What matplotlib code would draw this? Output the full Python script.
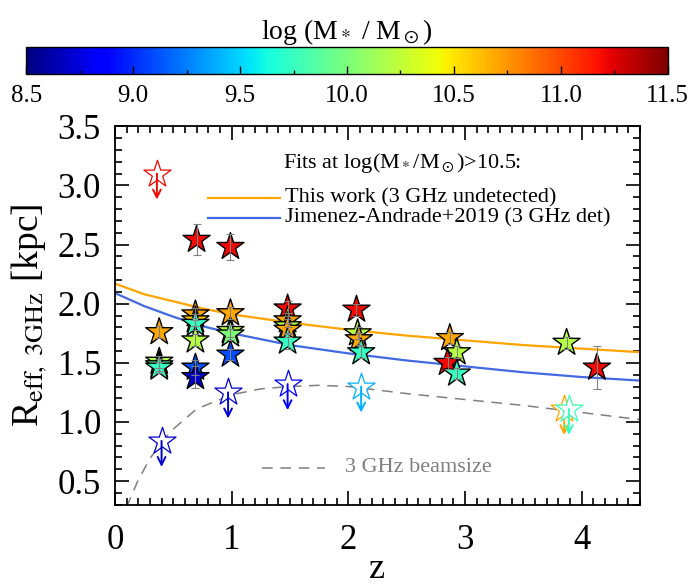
import matplotlib
matplotlib.use("Agg")
import matplotlib.pyplot as plt
import matplotlib.colors as mcolors
import matplotlib.cm as cm
from matplotlib.ticker import MultipleLocator

plt.rcParams["font.family"] = ["Liberation Serif", "DejaVu Serif"]
plt.rcParams["mathtext.fontset"] = "stix"

# detected sources: redshift, size, error, log stellar mass
z_det = [0.38, 0.38, 0.38, 0.38, 0.69, 0.69, 0.69, 0.69, 0.69, 0.69, 0.70,
         0.99, 0.99, 0.99, 0.99, 0.99, 1.48, 1.48, 1.48, 1.48, 1.48,
         2.07, 2.08, 2.09, 2.11, 2.87, 2.93, 2.85, 2.93, 3.87, 4.13]
r_det = [1.76, 1.51, 1.48, 1.46, 1.91, 1.86, 1.83, 1.69, 1.46, 1.38, 2.54,
         1.92, 1.77, 1.74, 1.57, 2.48, 1.96, 1.86, 1.81, 1.78, 1.68,
         1.95, 1.75, 1.70, 1.59, 1.71, 1.59, 1.50, 1.41, 1.67, 1.46]
e_det = [0.05, 0.05, 0.05, 0.05, 0.05, 0.05, 0.05, 0.05, 0.06, 0.09, 0.13,
         0.05, 0.05, 0.05, 0.05, 0.11, 0.06, 0.06, 0.06, 0.06, 0.06,
         0.05, 0.05, 0.05, 0.05, 0.05, 0.05, 0.05, 0.05, 0.05, 0.18]
m_det = [10.7, 10.2, 9.9, 9.75, 10.7, 10.6, 9.75, 10.2, 9.1, 8.7, 11.2,
         10.7, 10.2, 10.0, 9.1, 11.2, 11.2, 10.7, 10.2, 10.7, 9.75,
         11.2, 10.2, 10.7, 9.75, 10.7, 10.2, 11.2, 9.75, 10.2, 11.2]

# upper limits
z_lim = [0.36, 0.40, 0.97, 1.48, 2.11, 3.85, 3.89]
r_lim = [3.10, 0.84, 1.25, 1.32, 1.30, 1.11, 1.11]
m_lim = [11.2, 8.7, 8.7, 8.85, 9.4, 10.7, 9.75]

# fits at log(M*/Msun) > 10.5
z_fit = [0.0, 0.25, 0.5, 0.75, 1.0, 1.5, 2.0, 2.5, 3.0, 3.5, 4.0, 4.5]
r_this = [2.17, 2.08, 2.02, 1.96, 1.91, 1.84, 1.78, 1.73, 1.69, 1.65, 1.62, 1.59]
r_ja19 = [2.09, 1.98, 1.89, 1.81, 1.75, 1.65, 1.58, 1.52, 1.47, 1.42, 1.38, 1.35]

# 3 GHz beam size
z_beam = [0.1, 0.2, 0.3, 0.4, 0.5, 0.7, 1.0, 1.25, 1.5, 1.75, 2.0, 2.25,
          2.5, 3.0, 3.5, 4.0, 4.5]
r_beam = [0.28, 0.51, 0.69, 0.83, 0.94, 1.11, 1.23, 1.28, 1.30, 1.31, 1.30,
          1.27, 1.24, 1.19, 1.14, 1.08, 1.02]

cmap = plt.get_cmap("jet")
norm = mcolors.Normalize(vmin=8.5, vmax=11.5)

fig = plt.figure(figsize=(6.92, 5.87), dpi=100)
ax = fig.add_axes([0.166, 0.14, 0.759, 0.645])

ax.plot(z_fit, r_this, color="orange", lw=1.6, zorder=2)
ax.plot(z_fit, r_ja19, color="royalblue", lw=1.6, zorder=2)
ax.plot(z_beam, r_beam, color="gray", lw=1.1, ls=(0, (7, 5)), zorder=1)

ax.scatter(z_det, r_det, c=m_det, cmap=cmap, norm=norm, marker="*",
           s=420, edgecolors="black", linewidths=1.0, zorder=4)
ax.errorbar(z_det, r_det, yerr=e_det, fmt="none", ecolor="gray",
            elinewidth=0.8, capsize=3, capthick=0.8, zorder=5)

for x, y, m in zip(z_lim, r_lim, m_lim):
    col = cmap(norm(m))
    ax.scatter([x], [y], marker="*", s=420, facecolors="white",
               edgecolors=[col], linewidths=0.9, zorder=3)
    ax.annotate("", xy=(x, y - 0.22), xytext=(x, y),
                arrowprops=dict(arrowstyle="->", color=col, lw=1.4,
                                mutation_scale=14, shrinkA=0, shrinkB=0),
                zorder=3)

# legend, drawn by hand
ax.text(0.32, 0.902, r"Fits at log(M$_*$/M$_\odot$)>10.5:",
        transform=ax.transAxes, fontsize=16, va="center")
ax.plot([0.177, 0.314], [0.81, 0.81], color="orange", lw=1.6,
        transform=ax.transAxes)
ax.text(0.324, 0.81, "This work (3 GHz undetected)", transform=ax.transAxes,
        fontsize=16, va="center")
ax.plot([0.177, 0.314], [0.757, 0.757], color="royalblue", lw=1.6,
        transform=ax.transAxes)
ax.text(0.324, 0.757, "Jimenez-Andrade+2019 (3 GHz det)",
        transform=ax.transAxes, fontsize=16, va="center")
ax.plot([0.28, 0.40], [0.098, 0.098], color="gray", lw=1.1,
        ls=(0, (7, 5)), transform=ax.transAxes)
ax.text(0.438, 0.098, "3 GHz beamsize", transform=ax.transAxes,
        fontsize=16, va="center", color="gray")

ax.set_xlim(0, 4.5)
ax.set_ylim(0.3, 3.5)
ax.xaxis.set_major_locator(MultipleLocator(1))
ax.xaxis.set_minor_locator(MultipleLocator(0.1))
ax.yaxis.set_minor_locator(MultipleLocator(0.1))
ax.set_yticks([0.5, 1.0, 1.5, 2.0, 2.5, 3.0, 3.5])
ax.set_yticklabels(["0.5", "1.0", "1.5", "2.0", "2.5", "3.0", "3.5"])
ax.tick_params(which="both", direction="in", top=True, right=True,
               labelsize=25, width=1.2)
ax.tick_params(which="major", length=10)
ax.tick_params(which="minor", length=5)
ax.tick_params(axis="x", which="major", pad=14)
ax.tick_params(axis="y", which="major", pad=10)
for sp in ax.spines.values():
    sp.set_linewidth(1.3)
ax.set_xlabel("z", fontsize=26, labelpad=-3)
ax.set_ylabel(r"R$_{\mathrm{eff,\ 3GHz}}$ [kpc]", fontsize=27, labelpad=6)

# colour bar
cax = fig.add_axes([0.038, 0.874, 0.927, 0.046])
cb = fig.colorbar(cm.ScalarMappable(norm=norm, cmap=cmap), cax=cax,
                  orientation="horizontal")
cb.set_ticks([8.5, 9.0, 9.5, 10.0, 10.5, 11.0, 11.5])
cb.ax.xaxis.set_minor_locator(MultipleLocator(0.25))
cb.ax.tick_params(which="both", direction="in", labelsize=18, pad=8,
                  width=1.0)
cb.ax.tick_params(which="major", length=6)
cb.ax.tick_params(which="minor", length=3)
cb.outline.set_linewidth(1.0)
cb.ax.set_title(r"log (M$_*$ / M$_\odot$)", fontsize=20, pad=6)

fig.savefig("out.png", dpi=100)
